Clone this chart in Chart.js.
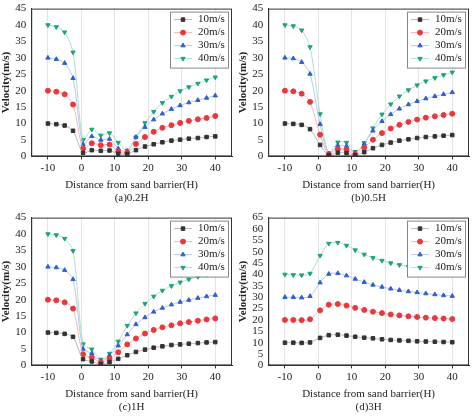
<!DOCTYPE html>
<html><head><meta charset="utf-8">
<script src="https://cdn.jsdelivr.net/npm/chart.js@4"></script>
<style>
body{margin:0;background:#fff;}
#g{display:grid;grid-template-columns:237px 237px;grid-template-rows:209px 209px;width:474px;height:418px;}
.c{position:relative;width:237px;height:209px;}
</style></head><body>
<div id="g"><div class="c"><canvas id="a"></canvas></div><div class="c"><canvas id="b"></canvas></div><div class="c"><canvas id="c"></canvas></div><div class="c"><canvas id="d"></canvas></div></div>
<script>
const xs=[-10,-7.5,-5,-2.5,0.5,3.1,5.8,8.4,11,13.7,16.3,19,21.6,24.2,26.9,29.5,32.1,34.8,37.4,40];
const xTicks=[-10,0,10,20,30,40];
const seriesNames=["10m/s","20m/s","30m/s","40m/s"];
const panelLabels=["(a)0.2H","(b)0.5H","(c)1H","(d)3H"];
const a10=[10,9.8,9.4,7.8,1.1,1.9,1.7,1.8,0.8,0.7,1.9,3,3.7,4.3,4.8,5.1,5.4,5.6,5.9,6.1];
const a20=[20,19.7,18.9,15.8,2.4,4,3.4,3.6,1.5,1.1,3.8,5.9,7.5,8.7,9.5,10.2,10.8,11.3,11.7,12.3];
const a30=[30,29.6,28.4,23.8,3.7,6.1,5,5.3,2.4,1.6,5.9,8.9,11.2,13,14.4,15.5,16.4,17.1,17.8,18.5];
const a40=[40,39.4,37.8,31.7,5,8.2,6.4,7.1,4.2,1.8,5.8,10.2,13.6,16.3,18.2,19.9,21.1,22.2,23.2,24.1];
const b10=[10,9.9,9.6,8.3,3.5,0.4,1.1,1.0,0.4,1.3,2.5,3.5,4.2,4.8,5.2,5.6,5.9,6.1,6.3,6.5];
const b20=[20,19.8,19.1,16.6,6.6,0.6,2.2,2.0,0.6,2.7,5.1,7.1,8.5,9.6,10.5,11.2,11.8,12.2,12.6,13];
const b30=[30,29.8,28.7,25.1,9.8,0.8,3.3,3.1,1.1,3.8,7.8,10.7,12.8,14.5,15.8,16.8,17.6,18.3,18.9,19.5];
const b40=[40,39.7,38.4,33.3,12.9,1,4.3,4.2,1.4,4.1,8.6,12.8,15.9,18.3,20.2,21.7,22.9,23.9,24.8,25.6];
const c10=[10,9.9,9.6,8.7,1.9,1.2,0.4,1,2,3.1,4.1,4.8,5.4,5.8,6.2,6.4,6.6,6.8,7,7.1];
const c20=[20,19.8,19.2,17.3,3.4,2.4,0.9,2,4,6.4,8.2,9.7,10.8,11.6,12.2,12.8,13.2,13.6,14,14.3];
const c30=[30,29.8,29,26.2,5,3.7,1.3,3,6,9.4,12.5,14.6,16.3,17.5,18.5,19.3,19.9,20.5,21,21.4];
const c40=[40,39.7,38.6,34.9,6.5,4.9,1.8,3.6,7.3,12.1,15.9,18.8,21,22.8,24.2,25.3,26.2,27,27.6,28.3];
const d10=[10,10,9.9,10.1,12.1,13.3,13.5,13.1,12.6,12.2,11.9,11.5,11.2,11,10.8,10.6,10.5,10.4,10.3,10.2];
const d20=[20,20,19.9,20.3,24.2,26.7,27,26.3,25.3,24.4,23.6,23,22.4,22,21.6,21.3,21,20.8,20.6,20.4];
const d30=[30,30,29.8,30.4,36.4,40.2,40.5,39.5,38,36.6,35.4,34.5,33.7,33.1,32.5,32.1,31.6,31.2,30.8,30.5];
const d40=[40,39.8,39.7,40.4,48.3,53.6,54,52.7,50.7,48.8,47.3,46.1,45,44.2,43.4,42.8,42.2,41.7,41.3,40.9];

const colors=["#333333","#e8383d","#2f5fcf","#1fa37a"];
const lineColors=["#b8b8b8","#f5b5b5","#b5c8f0","#b0e0cc"];
const styles=["rect","circle","triangle","triangle"];
const rots=[0,0,0,180];
const F='"Liberation Serif","Times New Roman",serif';

const frame={id:'frame',afterDraw(ch){
  const {ctx,chartArea:a}=ch;ctx.save();ctx.strokeStyle='#333';ctx.lineWidth=1;
  ctx.strokeRect(a.left+0.5,a.top+0.5,a.right-a.left-1,a.bottom-a.top-1);
  const w=58,h=56,x=a.right-w-4,y=a.top+3;
  ctx.fillStyle='#fff';ctx.fillRect(x,y,w,h);ctx.strokeStyle='#888';ctx.strokeRect(x+0.5,y+0.5,w,h);
  ch.data.datasets.forEach((ds,i)=>{
    const yy=y+8+i*13;
    ctx.strokeStyle=lineColors[i];ctx.lineWidth=1;ctx.beginPath();ctx.moveTo(x+4,yy);ctx.lineTo(x+22,yy);ctx.stroke();
    ctx.fillStyle=colors[i];ctx.strokeStyle=colors[i];
    Chart.helpers.drawPoint(ctx,{pointStyle:styles[i],radius:2.5,rotation:rots[i],borderWidth:1},x+13,yy);
    ctx.fillStyle='#222';ctx.font='11px '+F;ctx.textBaseline='middle';ctx.fillText(ds.label,x+28,yy);
  });
  ctx.restore();
}};

function make(id,data,label,ymax){
  new Chart(document.getElementById(id),{type:'line',
    data:{datasets:data.map((d,i)=>({label:seriesNames[i],data:xs.map((x,j)=>({x,y:d[j]})),
      borderColor:lineColors[i],backgroundColor:colors[i],pointBorderColor:colors[i],
      pointStyle:styles[i],pointRotation:rots[i],pointRadius:2.5,borderWidth:1,tension:0.3}))},
    options:{responsive:false,animation:false,devicePixelRatio:1,
      layout:{padding:{top:4,right:4}},
      plugins:{legend:{display:false},tooltip:{enabled:false}},
      scales:{
        x:{type:'linear',min:-15,max:45,
          afterBuildTicks:(s)=>{s.ticks=xTicks.map(v=>({value:v}));},
          ticks:{color:'#222',font:{family:F,size:11},padding:2,autoSkip:false,maxRotation:0},
          grid:{color:'#e4e4e4',drawTicks:true,tickLength:3,tickColor:'#333'},border:{color:'#333'},
          title:{display:true,text:['Distance from sand barrier(H)',label],color:'#222',font:{family:F,size:11},padding:{top:2}}},
        y:{min:0,max:ymax,ticks:{stepSize:5,color:'#222',font:{family:F,size:11},padding:2,autoSkip:false},
          grid:{display:false,drawTicks:true,tickLength:3},border:{color:'#333'},
          title:{display:true,text:'Velocity(m/s)',color:'#222',font:{family:F,size:11,weight:'bold'},padding:0}}
      }},plugins:[frame]});
}
function sz(id){const c=document.getElementById(id);c.width=237;c.height=209;c.style.width='237px';c.style.height='209px';}
['a','b','c','d'].forEach(sz);
make('a',[a10,a20,a30,a40],panelLabels[0],45);
make('b',[b10,b20,b30,b40],panelLabels[1],45);
make('c',[c10,c20,c30,c40],panelLabels[2],45);
make('d',[d10,d20,d30,d40],panelLabels[3],65);
</script></body></html>
